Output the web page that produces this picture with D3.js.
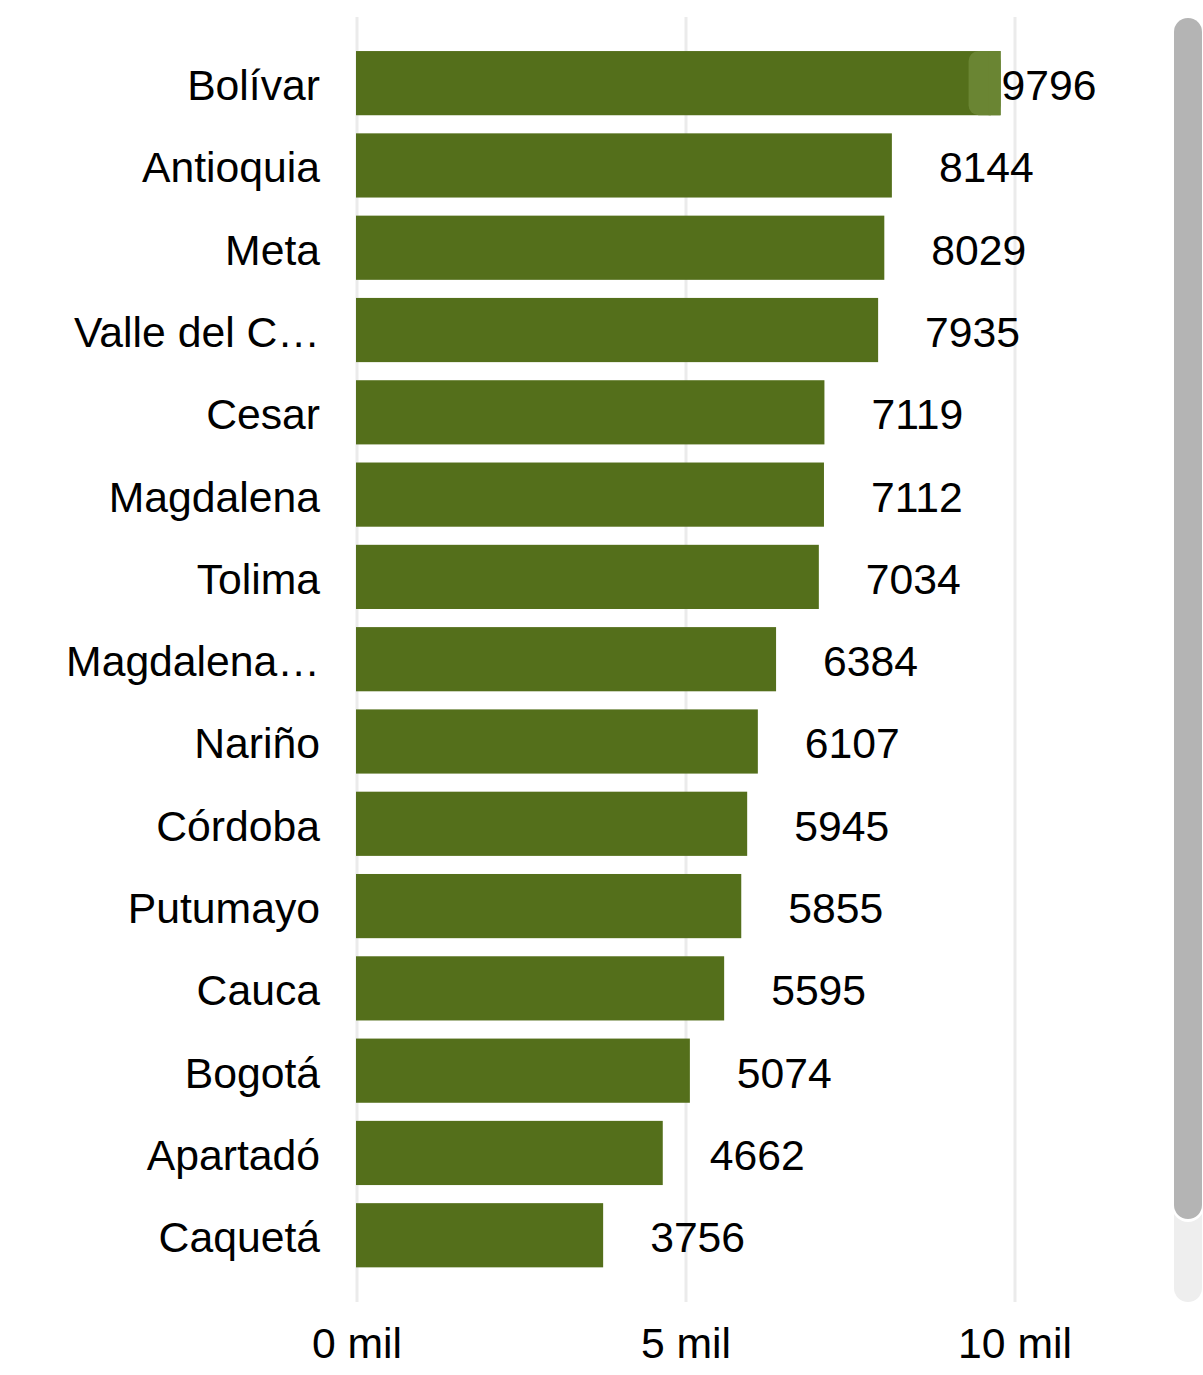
<!DOCTYPE html>
<html>
<head>
<meta charset="utf-8">
<script src="https://cdn.jsdelivr.net/npm/d3@7"></script>
<style>
  body { margin: 0; background: #fff; }
  svg { display: block; font-family: "Liberation Sans", Arial, sans-serif; }
</style>
</head>
<body>
<div class="graphic"></div>
<script>
const categories = ["Bolívar", "Antioquia", "Meta", "Valle del C…", "Cesar", "Magdalena",
  "Tolima", "Magdalena…", "Nariño", "Córdoba", "Putumayo", "Cauca", "Bogotá", "Apartadó", "Caquetá"];
const values = [9796, 8144, 8029, 7935, 7119, 7112, 7034, 6384, 6107, 5945, 5855, 5595, 5074, 4662, 3756];
const tickValues = [0, 5000, 10000];
const tickLabels = ["0 mil", "5 mil", "10 mil"];

const width = 1203, height = 1375;
const barColor = "#546f1b";
const fontSize = 42.7;

var svg = d3.select(".graphic")
  .append("svg")
  .attr("width", width)
  .attr("height", height)

var x = d3.scaleLinear()
  .domain([0, 10000])
  .range([357, 1015]);

var y = d3.scaleBand()
  .domain(categories)
  .range([42, 1276.4])
  .paddingInner(0.22)
  .paddingOuter(0.11);

// gridlines
svg.selectAll("line.grid")
  .data(tickValues)
  .enter()
  .append("line")
  .attr("class", "grid")
  .attr("x1", d => x(d))
  .attr("x2", d => x(d))
  .attr("y1", 17)
  .attr("y2", 1302)
  .style("stroke", "#ebebeb")
  .style("stroke-width", 3)

// bars
svg.selectAll("rect.bar")
  .data(values)
  .enter()
  .append("rect")
  .attr("class", "bar")
  .attr("x", x(0) - 1)
  .attr("y", (d, i) => y(categories[i]))
  .attr("width", d => x(d) - x(0))
  .attr("height", y.bandwidth())
  .style("fill", barColor)

// hover highlight on first bar
var hx = x(values[0]) - 1;
svg.append("rect")
  .attr("x", hx - 32)
  .attr("y", y(categories[0]))
  .attr("width", 32)
  .attr("height", y.bandwidth())
  .attr("rx", 10)
  .style("fill", "#6a8533")
svg.append("rect")
  .attr("x", hx - 12)
  .attr("y", y(categories[0]))
  .attr("width", 12)
  .attr("height", y.bandwidth())
  .style("fill", "#6a8533")

// category labels
svg.selectAll("text.cat")
  .data(categories)
  .enter()
  .append("text")
  .attr("class", "cat")
  .attr("x", 320)
  .attr("y", d => y(d) + y.bandwidth() / 2 + 2)
  .attr("dy", "0.35em")
  .attr("text-anchor", "end")
  .style("font-size", fontSize + "px")
  .style("fill", "#000")
  .text(d => d)

// value labels
svg.selectAll("text.val")
  .data(values)
  .enter()
  .append("text")
  .attr("class", "val")
  .attr("y", (d, i) => y(categories[i]) + y.bandwidth() / 2 + 2)
  .attr("dy", "0.35em")
  .style("font-size", fontSize + "px")
  .style("fill", "#000")
  .text(d => d)
  .attr("x", function(d) {
    var tx = x(d) + 46;
    if (tx + this.getComputedTextLength() > 1100) tx = x(d);
    return tx;
  })

// x axis tick labels
svg.selectAll("text.tick")
  .data(tickValues)
  .enter()
  .append("text")
  .attr("class", "tick")
  .attr("x", d => x(d))
  .attr("y", 1358)
  .attr("text-anchor", "middle")
  .style("font-size", fontSize + "px")
  .style("fill", "#000")
  .text((d, i) => tickLabels[i])

// scrollbar
svg.append("rect")
  .attr("x", 1174).attr("y", 1200)
  .attr("width", 28).attr("height", 102)
  .attr("rx", 14)
  .style("fill", "#eeeeee")
svg.append("rect")
  .attr("x", 1172).attr("y", 18)
  .attr("width", 32).attr("height", 1204)
  .attr("rx", 16)
  .style("fill", "#ffffff")
svg.append("rect")
  .attr("x", 1174).attr("y", 18)
  .attr("width", 28).attr("height", 1201)
  .attr("rx", 14)
  .style("fill", "#b4b4b4")
</script>
</body>
</html>
